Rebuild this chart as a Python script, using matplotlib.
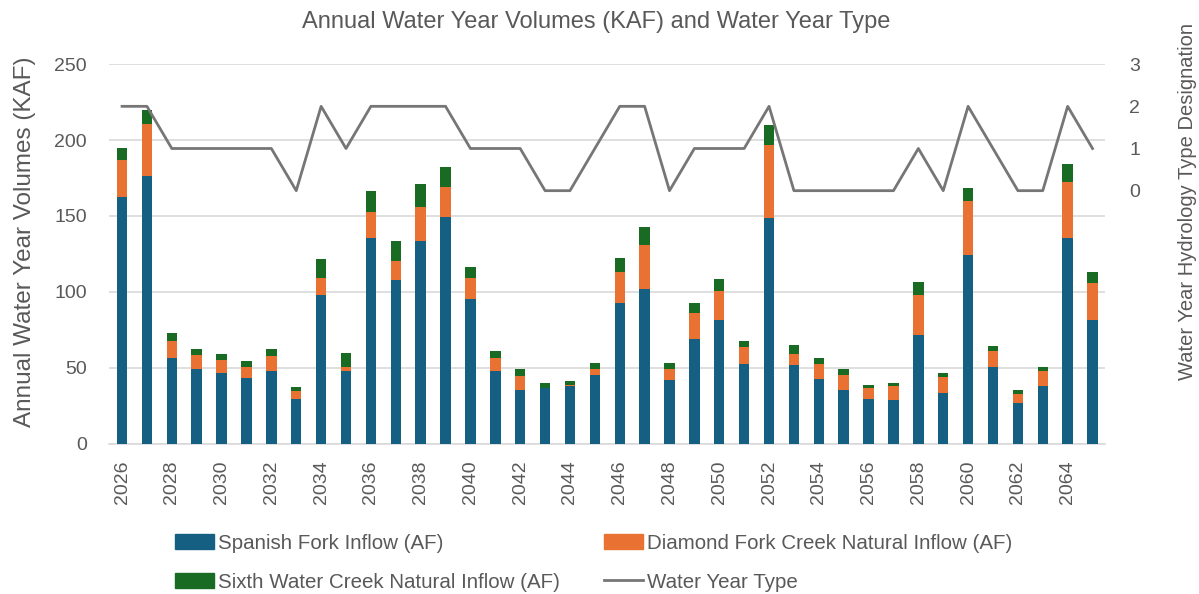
import numpy as np
import matplotlib
matplotlib.use("Agg")
import matplotlib.pyplot as plt
from matplotlib.patches import Patch
from matplotlib.lines import Line2D

years = list(range(2026, 2066))

spanish_fork = [162.6, 176.4, 56.5, 49.5, 46.4, 43.2, 48.2, 29.4, 97.7, 48.2,
                135.2, 108.0, 133.7, 149.0, 95.3, 47.8, 35.1, 36.4, 37.7, 45.1,
                92.9, 102.1, 42.1, 69.2, 81.3, 52.8, 148.6, 52.1, 42.7, 35.1,
                29.4, 28.7, 71.9, 33.3, 124.5, 50.8, 26.9, 38.3, 135.2, 81.3]
diamond_fork = [24.5, 34.2, 11.4, 9.0, 8.8, 7.6, 9.4, 5.0, 11.4, 2.6,
                17.1, 12.5, 22.3, 20.4, 13.8, 8.7, 9.4, 0.3, 1.3, 3.8,
                19.9, 28.5, 6.8, 16.7, 19.1, 10.7, 48.2, 7.1, 10.1, 10.0,
                7.6, 9.4, 25.8, 10.5, 35.4, 10.1, 5.7, 9.5, 37.5, 24.5]
sixth_water = [7.5, 9.4, 5.1, 3.7, 3.7, 3.8, 4.6, 3.1, 12.5, 8.8,
               14.4, 12.7, 15.3, 13.1, 7.0, 4.6, 4.4, 3.4, 2.2, 4.3,
               9.7, 12.0, 4.3, 6.8, 8.1, 4.4, 12.9, 6.1, 3.7, 3.8,
               1.8, 2.0, 9.0, 2.6, 8.4, 3.3, 3.1, 3.0, 11.3, 7.3]
water_year_type = [2, 2, 1, 1, 1, 1, 1, 0, 2, 1,
                   2, 2, 2, 2, 1, 1, 1, 0, 0, 1,
                   2, 2, 0, 1, 1, 1, 2, 0, 0, 0,
                   0, 0, 1, 0, 2, 1, 0, 0, 2, 1]

c_blue = "#156082"
c_orange = "#E97132"
c_green = "#196B24"
c_line = "#767676"
c_text = "#595959"
c_grid = "#D9D9D9"

plt.rcParams["font.family"] = ["Liberation Sans", "DejaVu Sans"]

fig = plt.figure(figsize=(11.99, 5.94), dpi=100)
ax = fig.add_axes([0.091, 0.253, 0.831, 0.639])

x = np.arange(len(years))
sf = np.array(spanish_fork)
df = np.array(diamond_fork)
sw = np.array(sixth_water)
w = 0.42
ax.bar(x, sf, w, color=c_blue, zorder=3)
ax.bar(x, df, w, bottom=sf, color=c_orange, zorder=3)
ax.bar(x, sw, w, bottom=sf + df, color=c_green, zorder=3)

ax.set_xlim(-0.52, len(years) - 0.48)
ax.set_ylim(0, 250)
ax.set_yticks([0, 50, 100, 150, 200, 250])
ax.set_xticks(x[::2])
ax.set_xticklabels([str(y) for y in years[::2]], rotation=90)
ax.grid(axis="y", color=c_grid, linewidth=1.2, zorder=0)
for s in ["top", "right", "left"]:
    ax.spines[s].set_visible(False)
ax.spines["bottom"].set_color(c_grid)
ax.spines["bottom"].set_linewidth(1.2)
ax.tick_params(axis="y", length=0, labelsize=14, labelcolor=c_text, pad=16)
ax.tick_params(axis="x", length=0, labelsize=14, labelcolor=c_text, pad=12)

ax2 = ax.twinx()
ax2.plot(x, water_year_type, color=c_line, linewidth=2, zorder=4)
ax2.set_ylim(-6, 3)
ax2.set_yticks([0, 1, 2, 3])
for s in ax2.spines.values():
    s.set_visible(False)
ax2.tick_params(axis="y", length=0, labelsize=14, labelcolor=c_text, pad=17)

fig.text(0.021, 0.593, "Annual Water Year Volumes (KAF)", rotation=90,
         ha="center", va="center", fontsize=17.5, color=c_text)
fig.text(0.99, 0.66, "Water Year Hydrology Type Designation", rotation=90,
         ha="center", va="center", fontsize=14.5, color=c_text)
fig.text(0.497, 0.963, "Annual Water Year Volumes (KAF) and Water Year Type",
         ha="center", va="center", fontsize=17, color=c_text)

handles = [Patch(color=c_blue), Patch(color=c_green),
           Patch(color=c_orange), Line2D([], [], color=c_line, linewidth=2)]
labels = ["Spanish Fork Inflow (AF)", "Sixth Water Creek Natural Inflow (AF)",
          "Diamond Fork Creek Natural Inflow (AF)", "Water Year Type"]
leg = fig.legend(handles, labels, ncol=2, loc="upper left",
                 bbox_to_anchor=(0.146, 0.101), bbox_transform=fig.transFigure,
                 frameon=False, fontsize=14.8, handlelength=1.9, handleheight=0.75,
                 handletextpad=0.2, columnspacing=2.15, labelspacing=0.95,
                 borderpad=0, borderaxespad=0)
for t in leg.get_texts():
    t.set_color(c_text)

fig.savefig("out.png", dpi=100)
